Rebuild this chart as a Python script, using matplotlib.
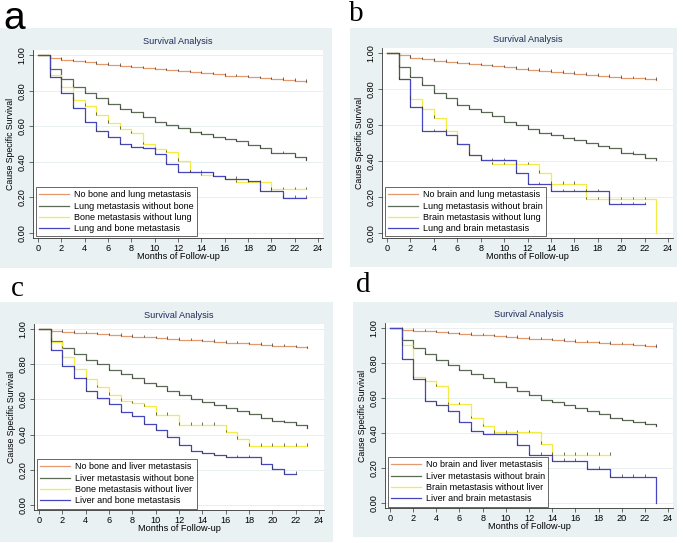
import matplotlib.pyplot as plt
from matplotlib.patches import Rectangle

# survival estimates per month (level held on [m, m+1)); last value is where the curve ends
orange_a = [1.0, 0.985, 0.975, 0.967, 0.960, 0.953, 0.946, 0.940, 0.934, 0.928, 0.922, 0.916,
            0.910, 0.904, 0.898, 0.892, 0.886, 0.881, 0.876, 0.871, 0.866, 0.861, 0.856, 0.852]
green_a = [1.0, 0.922, 0.865, 0.822, 0.787, 0.758, 0.726, 0.698, 0.679, 0.650, 0.623, 0.607,
           0.589, 0.570, 0.557, 0.540, 0.528, 0.515, 0.494, 0.479, 0.449, 0.449, 0.428, 0.410]
yellow_a = [1.0, 0.887, 0.820, 0.750, 0.717, 0.664, 0.619, 0.585, 0.560, 0.500, 0.470, 0.453,
            0.406, 0.340, 0.325, 0.320, 0.305, 0.283, 0.283, 0.283, 0.245, 0.245, 0.245, 0.245]
blue_a = [1.0, 0.880, 0.787, 0.704, 0.626, 0.575, 0.541, 0.500, 0.485, 0.475, 0.443, 0.387,
          0.340, 0.340, 0.340, 0.320, 0.305, 0.305, 0.290, 0.236, 0.236, 0.198, 0.198, 0.198]

orange_b = [1.0, 0.990, 0.975, 0.967, 0.960, 0.953, 0.946, 0.940, 0.934, 0.928, 0.922, 0.915,
            0.909, 0.903, 0.897, 0.891, 0.885, 0.880, 0.875, 0.870, 0.865, 0.860, 0.856, 0.852]
green_b = [1.0, 0.922, 0.867, 0.824, 0.780, 0.750, 0.713, 0.690, 0.672, 0.648, 0.617, 0.602,
           0.580, 0.557, 0.546, 0.528, 0.519, 0.502, 0.483, 0.472, 0.446, 0.440, 0.417, 0.405]
yellow_b = [1.0, 0.857, 0.746, 0.690, 0.640, 0.565, 0.493, 0.435, 0.407, 0.381, 0.381, 0.381,
            0.381, 0.333, 0.274, 0.274, 0.274, 0.187, 0.187, 0.187, 0.187, 0.187, 0.187, 0.0]
blue_b = [1.0, 0.857, 0.700, 0.565, 0.565, 0.543, 0.493, 0.435, 0.405, 0.405, 0.405, 0.333,
          0.270, 0.270, 0.231, 0.231, 0.231, 0.231, 0.231, 0.157, 0.157, 0.157, 0.157]

orange_c = [1.0, 0.990, 0.985, 0.980, 0.976, 0.971, 0.966, 0.962, 0.958, 0.954, 0.949, 0.945,
            0.941, 0.937, 0.932, 0.928, 0.924, 0.920, 0.915, 0.911, 0.907, 0.902, 0.898, 0.893]
green_c = [1.0, 0.935, 0.892, 0.858, 0.825, 0.800, 0.768, 0.744, 0.721, 0.696, 0.674, 0.651,
           0.626, 0.600, 0.583, 0.569, 0.554, 0.537, 0.518, 0.497, 0.480, 0.470, 0.455, 0.440]
yellow_c = [1.0, 0.930, 0.840, 0.774, 0.715, 0.670, 0.626, 0.594, 0.579, 0.560, 0.512, 0.512,
            0.455, 0.455, 0.455, 0.455, 0.412, 0.376, 0.336, 0.336, 0.336, 0.336, 0.336, 0.336]
blue_c = [1.0, 0.882, 0.793, 0.721, 0.651, 0.607, 0.573, 0.526, 0.503, 0.461, 0.427, 0.385,
          0.342, 0.304, 0.294, 0.283, 0.271, 0.271, 0.271, 0.231, 0.205, 0.176, 0.176]

orange_d = [1.0, 0.992, 0.987, 0.982, 0.977, 0.972, 0.967, 0.963, 0.959, 0.954, 0.950, 0.946,
            0.941, 0.937, 0.932, 0.928, 0.924, 0.920, 0.915, 0.911, 0.907, 0.902, 0.898, 0.893]
green_d = [1.0, 0.935, 0.888, 0.853, 0.820, 0.790, 0.760, 0.738, 0.715, 0.690, 0.665, 0.640,
           0.615, 0.590, 0.575, 0.558, 0.543, 0.527, 0.507, 0.488, 0.472, 0.463, 0.452, 0.440]
yellow_d = [1.0, 0.905, 0.720, 0.700, 0.667, 0.566, 0.566, 0.486, 0.438, 0.404, 0.404, 0.404,
            0.404, 0.339, 0.276, 0.276, 0.276, 0.276, 0.276, 0.276]
blue_d = [1.0, 0.823, 0.712, 0.585, 0.562, 0.524, 0.461, 0.413, 0.394, 0.394, 0.394, 0.333,
          0.276, 0.276, 0.242, 0.242, 0.242, 0.194, 0.194, 0.149, 0.149, 0.149, 0.149, 0.0]

labels_a = ["No bone and lung metastasis", "Lung metastasis without bone",
            "Bone metastasis without lung", "Lung and bone metastasis"]
labels_b = ["No brain and lung metastasis", "Lung metastasis without brain",
            "Brain metastasis without lung", "Lung and brain metastasis"]
labels_c = ["No bone and liver metastasis", "Liver metastasis without bone",
            "Bone metastasis without liver", "Liver and bone metastasis"]
labels_d = ["No brain and liver metastasis", "Liver metastasis without brain",
            "Brain metastasis without liver", "Liver and brain metastasis"]

colors = ['#E39A6E', '#5C6B55', '#F2EC45', '#4646BE']
W, H = 683, 543

plt.rcParams['font.family'] = ['Liberation Sans', 'DejaVu Sans']
fig = plt.figure(figsize=(W / 100, H / 100), dpi=100)
fig.patch.set_facecolor('white')


def px_rect(x0, y0, x1, y1):
    # pixel box (top-left origin) -> figure fraction rect
    return [x0 / W, 1 - y1 / H, (x1 - x0) / W, (y1 - y0) / H]


def draw_panel(bg, box, letter, letter_xy, letter_font, curves, labels):
    l, b, w, h = px_rect(*bg)
    fig.patches.append(Rectangle((l, b), w, h, transform=fig.transFigure,
                                 facecolor='#EAF1F3', edgecolor='none', zorder=-5))
    fig.text(letter_xy[0] / W, 1 - letter_xy[1] / H, letter, fontsize=letter_font[1],
             family=letter_font[0], va='top', ha='left')
    ax = fig.add_axes(px_rect(*box))
    ax.set_zorder(2)
    ax.set_facecolor('white')
    for c, vals, lab in zip(colors, curves, labels):
        months = list(range(len(vals)))
        ax.step(months, vals, where='post', color=c, lw=0.9, label=lab)
        tx = [m for m in months[1:] if vals[m] > 0]
        ty = [vals[m] for m in tx]
        ax.vlines(tx, ty, [v + 0.014 for v in ty], color='#333333', lw=0.5, zorder=3)
    ax.set_xlim(-0.43, 24.43)
    ax.set_ylim(-0.03, 1.03)
    ax.set_xticks(range(0, 25, 2))
    ax.set_yticks([0, 0.2, 0.4, 0.6, 0.8, 1.0])
    ax.set_yticklabels(['0.00', '0.20', '0.40', '0.60', '0.80', '1.00'],
                       rotation=90, va='center')
    ax.tick_params(labelsize=6.6, length=3, width=0.5, color='#333333', pad=1.5)
    ax.grid(axis='y', color='#E4ECEF', lw=0.6)
    ax.set_axisbelow(True)
    for s in ['top', 'right']:
        ax.spines[s].set_visible(False)
    for s in ['left', 'bottom']:
        ax.spines[s].set_linewidth(0.6)
        ax.spines[s].set_color('#333333')
    ax.set_title("Survival Analysis", fontsize=6.6, color='#1E2A5A', pad=4)
    ax.set_xlabel("Months of Follow-up", fontsize=6.6, labelpad=-1)
    ax.set_ylabel("Cause Specific Survival", fontsize=6.3, labelpad=2)
    leg = ax.legend(loc='lower left', bbox_to_anchor=(0.01, 0.008), borderaxespad=0,
                    fontsize=6.5, frameon=True, fancybox=False, edgecolor='#222222',
                    handlelength=3.3, borderpad=0.36, labelspacing=0.25, handletextpad=0.55)
    leg.get_frame().set_linewidth(0.6)
    return ax


draw_panel((0, 28, 332, 268), (33, 50, 323, 238), 'a', (3, 1), ('Liberation Sans', 28),
           [orange_a, green_a, yellow_a, blue_a], labels_a)
draw_panel((350, 28, 677, 267), (382, 48, 673, 238), 'b', (349, 1), ('Liberation Serif', 21),
           [orange_b, green_b, yellow_b, blue_b], labels_b)
draw_panel((0, 302, 333, 542), (34, 324, 324, 510), 'c', (11, 276), ('Liberation Serif', 21),
           [orange_c, green_c, yellow_c, blue_c], labels_c)
draw_panel((353, 302, 677, 537), (385, 323, 673, 508), 'd', (356, 272), ('Liberation Serif', 21),
           [orange_d, green_d, yellow_d, blue_d], labels_d)

plt.savefig('out.png', dpi=100)
